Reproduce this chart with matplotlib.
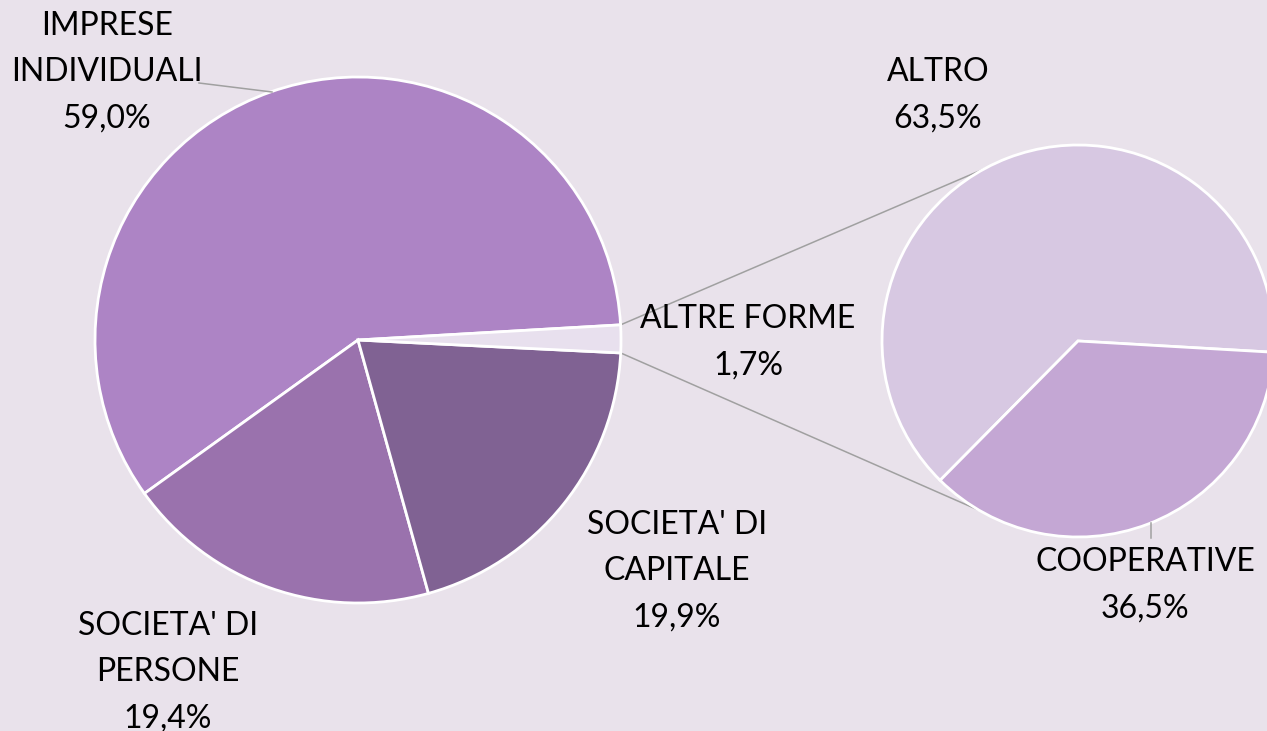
import numpy as np
import matplotlib.pyplot as plt

#               data
main_labels = ["IMPRESE\nINDIVIDUALI", "SOCIETA' DI\nPERSONE",
               "SOCIETA' DI\nCAPITALE", "ALTRE FORME"]
main_values = [59.0, 19.4, 19.9, 1.7]
sub_labels = ["ALTRO", "COOPERATIVE"]
sub_values = [63.5, 36.5]

#               style
bg = "#E9E2EB"
main_colors = ["#AD84C5", "#9A72AD", "#806293", "#E8E0EE"]
sub_colors = ["#D7C8E2", "#C4A7D4"]
W, H = 1267, 731
c_main, r_main = (358, H - 340), 263
c_sub, r_sub = (1078, H - 341), 196
plt.rcParams['font.family'] = ['Lato', 'DejaVu Sans']

fig = plt.figure(figsize=(W / 100, H / 100), dpi=100, facecolor=bg)
ax = fig.add_axes([0, 0, 1, 1])
ax.set_facecolor(bg)

wp = dict(edgecolor='white', linewidth=2.0)
wedges, _ = ax.pie(main_values, colors=main_colors, startangle=3.3,
                   center=c_main, radius=r_main, wedgeprops=wp, frame=True)
sub_w, _ = ax.pie(sub_values, colors=sub_colors, startangle=-3.3,
                  center=c_sub, radius=r_sub, wedgeprops=wp, frame=True)
ax.set_xlim(0, W)
ax.set_ylim(0, H)
ax.set_aspect('equal')
ax.axis('off')

# connection lines from the small slice to the second pie
def pt(c, r, a):
    a = np.deg2rad(a)
    return c[0] + r * np.cos(a), c[1] + r * np.sin(a)

w = wedges[3]
p1 = pt(c_main, r_main, w.theta2)
p2 = pt(c_main, r_main, w.theta1)
q1 = pt(c_sub, r_sub, 118.5)
q2 = pt(c_sub, r_sub, 240.0)
lc = "#A0A0A0"
ax.plot([p1[0], q1[0]], [p1[1], q1[1]], color=lc, lw=1.1, zorder=0)
ax.plot([p2[0], q2[0]], [p2[1], q2[1]], color=lc, lw=1.1, zorder=0)

# labels
def pct(v):
    return f"{v:.1f}%".replace(".", ",")

main_pos = [(107, 72), (168, 672), (677, 571), (748, 342)]
sub_pos = [(938, 95), (1145, 585)]
tk = dict(ha='center', va='center', fontsize=23, linespacing=1.67,
          multialignment='center', color='black')
for lab, v, (x, y) in zip(main_labels, main_values, main_pos):
    ax.text(x, H - y, f"{lab}\n{pct(v)}", **tk)
for lab, v, (x, y) in zip(sub_labels, sub_values, sub_pos):
    ax.text(x, H - y, f"{lab}\n{pct(v)}", **tk)

# leader lines
ax.plot([199, 272], [H - 83, H - 92], color=lc, lw=1.1)
ax.plot([1151, 1151], [H - 523, H - 538], color=lc, lw=1.1)

fig.savefig("out.png", dpi=100, facecolor=bg)
